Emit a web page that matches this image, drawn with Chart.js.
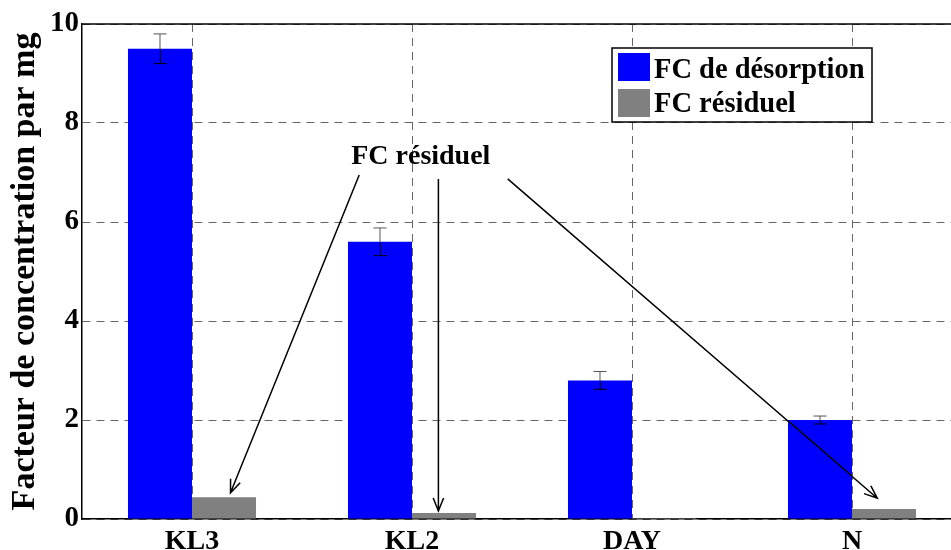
<!DOCTYPE html>
<html>
<head>
<meta charset="utf-8">
<script src="https://cdn.jsdelivr.net/npm/chart.js@4.4.0/dist/chart.umd.min.js"></script>
<style>
html, body { margin: 0; padding: 0; background: #fff; overflow: hidden; }
#wrap { width: 962px; height: 550px; }
</style>
</head>
<body>
<div id="wrap"><canvas id="grafico" width="962" height="550"></canvas></div>
<script>
const categorias = ['KL3', 'KL2', 'DAY', 'N'];
const fcDesorption = [9.5, 5.6, 2.8, 2.0];
const erreurDesorption = [0.3, 0.28, 0.18, 0.08];
const fcResiduel = [0.44, 0.12, 0.02, 0.2];
const ticksY = [0, 2, 4, 6, 8, 10];
const etiquettes = ['FC de désorption', 'FC résiduel'];
const texteAnnotation = 'FC résiduel';
const posAnnotation = [1.04, 7.17]; // (indice de catégorie, valeur)
// flèches : départ et arrivée en (indice de catégorie, valeur)
const fleches = [
    [0.76, 6.95, 0.175, 0.53],
    [1.12, 6.87, 1.12, 0.16],
    [1.435, 6.87, 3.115, 0.42]
];

const police = '"Liberation Serif", "Times New Roman", serif';
Chart.defaults.color = '#000';

const pluginDessin = {
    id: 'dessin',
    beforeDatasetsDraw(chart) {
        const ctx = chart.ctx;
        const area = chart.chartArea;
        // bord supérieur plein
        ctx.save();
        ctx.strokeStyle = '#000';
        ctx.lineWidth = 1.5;
        ctx.beginPath();
        ctx.moveTo(area.left, area.top);
        ctx.lineTo(area.right, area.top);
        ctx.stroke();
        ctx.restore();
    },
    afterDatasetsDraw(chart) {
        const ctx = chart.ctx;
        const x = chart.scales.x;
        const y = chart.scales.y;
        const meta = chart.getDatasetMeta(0);

        // barres d'erreur
        ctx.save();
        ctx.lineWidth = 1;
        meta.data.forEach((barre, i) => {
            const haut = y.getPixelForValue(fcDesorption[i] + erreurDesorption[i]);
            const bas = y.getPixelForValue(fcDesorption[i] - erreurDesorption[i]);
            ctx.strokeStyle = '#555';
            ctx.beginPath();
            ctx.moveTo(barre.x, haut);
            ctx.lineTo(barre.x, barre.y);
            ctx.moveTo(barre.x - 6.5, haut);
            ctx.lineTo(barre.x + 6.5, haut);
            ctx.stroke();
            ctx.strokeStyle = '#000';
            ctx.beginPath();
            ctx.moveTo(barre.x, barre.y);
            ctx.lineTo(barre.x, bas);
            ctx.moveTo(barre.x - 6.5, bas);
            ctx.lineTo(barre.x + 6.5, bas);
            ctx.stroke();
        });
        ctx.restore();

        // annotation
        ctx.save();
        ctx.font = 'bold 28px ' + police;
        ctx.fillStyle = '#000';
        ctx.textAlign = 'center';
        ctx.textBaseline = 'alphabetic';
        ctx.fillText(texteAnnotation, x.getPixelForValue(posAnnotation[0]), y.getPixelForValue(posAnnotation[1]));

        ctx.strokeStyle = '#000';
        ctx.lineWidth = 1.5;
        fleches.forEach(f => {
            const x1 = x.getPixelForValue(f[0]);
            const y1 = y.getPixelForValue(f[1]);
            const x2 = x.getPixelForValue(f[2]);
            const y2 = y.getPixelForValue(f[3]);
            const angle = Math.atan2(y2 - y1, x2 - x1);
            ctx.beginPath();
            ctx.moveTo(x1, y1);
            ctx.lineTo(x2, y2);
            ctx.moveTo(x2 - 14 * Math.cos(angle - 0.38), y2 - 14 * Math.sin(angle - 0.38));
            ctx.lineTo(x2, y2);
            ctx.lineTo(x2 - 14 * Math.cos(angle + 0.38), y2 - 14 * Math.sin(angle + 0.38));
            ctx.stroke();
        });
        ctx.restore();

        // légende
        ctx.save();
        ctx.fillStyle = '#fff';
        ctx.fillRect(612, 48, 260, 74);
        ctx.strokeStyle = '#000';
        ctx.lineWidth = 1.5;
        ctx.strokeRect(612, 48, 260, 74);
        ctx.font = 'bold 28.5px ' + police;
        ctx.textBaseline = 'alphabetic';
        chart.data.datasets.forEach((ds, i) => {
            ctx.fillStyle = ds.backgroundColor;
            ctx.fillRect(618, 53 + i * 36, 32, 28);
            ctx.fillStyle = '#000';
            ctx.fillText(ds.label, 654, 78 + i * 34);
        });
        ctx.restore();
    }
};

const ctx = document.getElementById('grafico').getContext('2d');
new Chart(ctx, {
    type: 'bar',
    data: {
        labels: categorias,
        datasets: [{
            label: etiquettes[0],
            data: fcDesorption,
            backgroundColor: '#0000ff',
            borderWidth: 0,
            barPercentage: 1,
            categoryPercentage: 0.582
        }, {
            label: etiquettes[1],
            data: fcResiduel,
            backgroundColor: '#808080',
            borderWidth: 0,
            barPercentage: 1,
            categoryPercentage: 0.582
        }]
    },
    options: {
        responsive: false,
        animation: false,
        layout: { padding: { top: 24, right: 0, left: 0, bottom: 0 } },
        plugins: {
            legend: { display: false },
            tooltip: { enabled: false }
        },
        scales: {
            x: {
                grid: { offset: false, color: '#666', lineWidth: 1, drawTicks: false },
                border: { display: true, color: '#000', width: 1.5, dash: [8, 6] },
                ticks: { font: { family: police, size: 28, weight: 'bold' }, padding: 6, maxRotation: 0 },
                afterFit(s) { s.height = 31; }
            },
            y: {
                min: 0,
                max: 10,
                afterBuildTicks(s) { s.ticks = ticksY.map(v => ({ value: v })); },
                grid: { color: '#666', lineWidth: 1, drawTicks: false },
                border: { display: true, color: '#000', width: 1.5, dash: [8, 6] },
                ticks: { font: { family: police, size: 29, weight: 'bold' }, padding: 3 },
                title: {
                    display: true,
                    text: 'Facteur de concentration par mg',
                    font: { family: police, size: 34, weight: 'bold' },
                    padding: { top: 5, bottom: 0 }
                },
                afterFit(s) { s.width = 82; }
            }
        }
    },
    plugins: [pluginDessin]
});
</script>
</body>
</html>
